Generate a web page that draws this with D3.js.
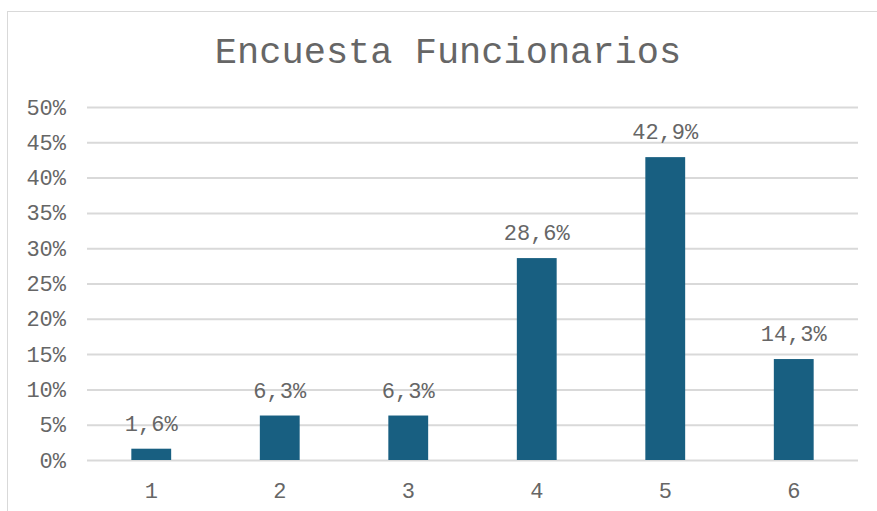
<!DOCTYPE html>
<html><head><meta charset="utf-8">
<script src="https://cdn.jsdelivr.net/npm/d3@7"></script>
<style>body{margin:0;background:#fff}svg{display:block}</style>
</head><body>
<script>
const categories = ["1","2","3","4","5","6"];
const values = [1.6, 6.3, 6.3, 28.6, 42.9, 14.3];
const yTicks = [0,5,10,15,20,25,30,35,40,45,50];
const title = "Encuesta Funcionarios";

const W = 877, H = 511;
const font = "'Courier New','Nimbus Mono PS','FreeMono','Courier','Liberation Mono',monospace";
const textColor = "#666666";
const svg = d3.select("body").append("svg").attr("width", W).attr("height", H);
svg.append("rect").attr("x",7.5).attr("y",11.5).attr("width",890).attr("height",520)
  .attr("fill","#fff").attr("stroke","#d9d9d9").attr("stroke-width",1);

const m = {left:87, right:858, top:107, bottom:460};
const x = d3.scaleBand().domain(categories).range([m.left, m.right]).paddingInner(0.69).paddingOuter(0.345);
const y = d3.scaleLinear().domain([0,50]).range([m.bottom, m.top]);

svg.append("text").attr("x",448).attr("y",63).attr("text-anchor","middle")
  .attr("font-family",font).attr("font-size",37).attr("fill",textColor).text(title);

const yAxis = svg.append("g").attr("transform",`translate(${m.left},0)`)
  .call(d3.axisLeft(y).tickValues(yTicks).tickSize(-(m.right-m.left)).tickPadding(21).tickFormat(d=>d+"%"));
yAxis.select(".domain").remove();
yAxis.selectAll(".tick line").attr("stroke","#d9d9d9").attr("stroke-width",2);
yAxis.selectAll(".tick text").attr("font-family",font).attr("font-size",22).attr("fill",textColor);

const xAxis = svg.append("g").attr("transform",`translate(0,${m.bottom})`)
  .call(d3.axisBottom(x).tickSize(0).tickPadding(22));
xAxis.select(".domain").remove();
xAxis.selectAll(".tick text").attr("font-family",font).attr("font-size",22).attr("fill",textColor);

svg.selectAll("rect.bar").data(values).enter().append("rect").attr("class","bar")
  .attr("x",(d,i)=>x(categories[i])).attr("width",x.bandwidth())
  .attr("y",d=>y(d)).attr("height",d=>y(0)-y(d)).attr("fill","#185f81");

svg.selectAll("text.lbl").data(values).enter().append("text").attr("class","lbl")
  .attr("x",(d,i)=>x(categories[i])+x.bandwidth()/2).attr("y",d=>y(d)-18)
  .attr("text-anchor","middle").attr("font-family",font).attr("font-size",22).attr("fill",textColor)
  .text(d=>d.toFixed(1).replace(".",",")+"%");
</script>
</body></html>
